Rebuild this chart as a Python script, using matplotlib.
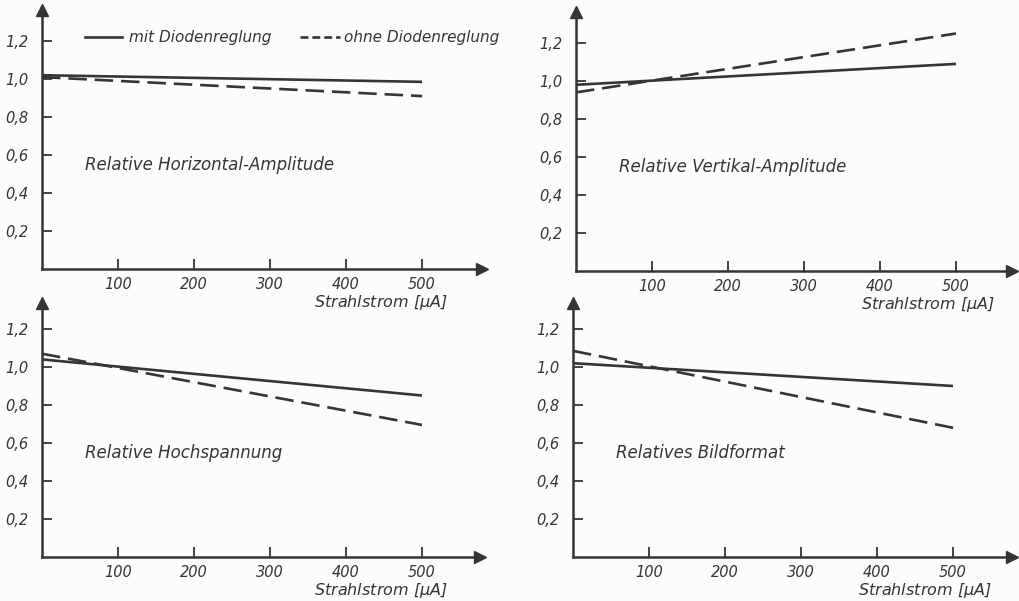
import matplotlib
matplotlib.use("Agg")
import matplotlib.pyplot as plt

# ---- data ----
x_ends = [0, 500]
titles = ["Relative Horizontal-Amplitude", "Relative Vertikal-Amplitude",
          "Relative Hochspannung", "Relatives Bildformat"]
mit = [[1.02, 0.985], [0.98, 1.09], [1.04, 0.85], [1.02, 0.90]]
ohne = [[1.01, 0.91], [0.94, 1.25], [1.07, 0.695], [1.085, 0.68]]
xticks = [100, 200, 300, 400, 500]
yticks = [0.2, 0.4, 0.6, 0.8, 1.0, 1.2]
ytick_labels = ["0,2", "0,4", "0,6", "0,8", "1,0", "1,2"]
xlabel = "Strahlstrom [$\\mu A$]"
legend_labels = ["mit Diodenreglung", "ohne Diodenreglung"]

W, H = 1019, 601
INK = "#353535"
BG = "#fcfcfc"
plt.rcParams['font.family'] = ['DejaVu Sans']
plt.rcParams['mathtext.fontset'] = 'dejavusans'
plt.rcParams['mathtext.default'] = 'it'

fig = plt.figure(figsize=(W / 100, H / 100), dpi=100, facecolor=BG)

# pixel extents: (left, right, top, bottom)
boxes = [(42, 482, 10, 269), (576, 1012, 12, 271),
         (42, 480, 303, 557), (573, 1012, 303, 557)]
PX_X = 0.76   # pixels per µA
PX_Y = 190.0  # pixels per unit

FS = 10.5
for i, (l, r, t, b) in enumerate(boxes):
    ax = fig.add_axes([l / W, (H - b) / H, (r - l) / W, (b - t) / H])
    ax.set_facecolor('none')
    ax.set_xlim(0, (r - l) / PX_X)
    ax.set_ylim(0, (b - t) / PX_Y)
    for s in ['top', 'right']:
        ax.spines[s].set_visible(False)
    for s in ['left', 'bottom']:
        ax.spines[s].set_linewidth(1.8)
        ax.spines[s].set_color(INK)
    ax.plot([1], [0], marker='>', ms=8, color=INK, transform=ax.transAxes, clip_on=False)
    ax.plot([0], [1], marker='^', ms=8, color=INK, transform=ax.transAxes, clip_on=False)
    ax.set_xticks(xticks)
    ax.set_xticklabels([str(v) for v in xticks], fontstyle='italic', fontsize=FS, color=INK)
    ax.set_yticks(yticks)
    ax.set_yticklabels(ytick_labels, fontstyle='italic', fontsize=FS, color=INK)
    ax.tick_params(axis='both', direction='in', length=7, width=1.3, colors=INK)
    ax.tick_params(axis='x', pad=6)
    ax.tick_params(axis='y', pad=10)

    ax.plot(x_ends, mit[i], color=INK, lw=1.9, solid_capstyle='butt')
    ax.plot(x_ends, ohne[i], color=INK, lw=1.9, linestyle=(0, (7, 3)))
    ax.text(57, 0.55, titles[i], fontstyle='italic', fontsize=12, color=INK,
            ha='left', va='center')

    if i == 0:
        ax.plot([57, 105], [1.22, 1.22], color=INK, lw=1.9, clip_on=False)
        ax.text(115, 1.22, legend_labels[0], fontstyle='italic', fontsize=FS + 0.5,
                color=INK, ha='left', va='center')
        ax.plot([340, 392], [1.22, 1.22], color=INK, lw=1.9, linestyle=(0, (3, 1.5)),
                clip_on=False)
        ax.text(398, 1.22, legend_labels[1], fontstyle='italic', fontsize=FS + 0.5,
                color=INK, ha='left', va='center', clip_on=False)

# x labels
for (xr, yc) in [(448, 303), (995, 305), (448, 590), (992, 590)]:
    fig.text(xr / W, (H - yc) / H, xlabel, fontstyle='italic', fontsize=FS + 1,
             color=INK, ha='right', va='center')

fig.savefig("out.png", dpi=100, facecolor=BG)
